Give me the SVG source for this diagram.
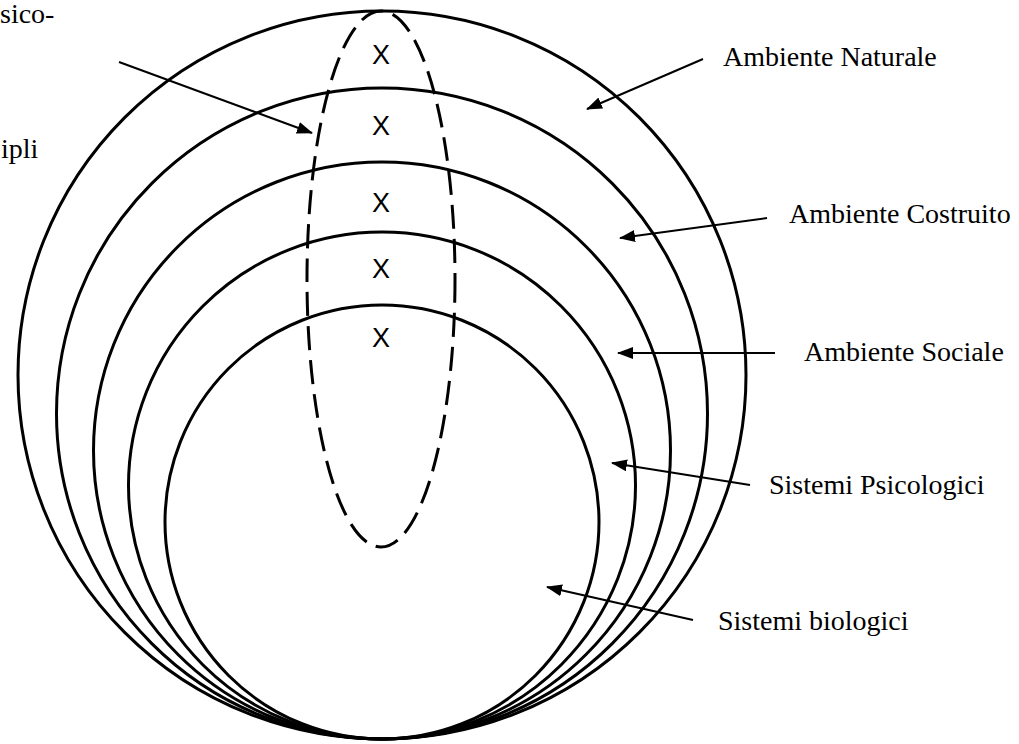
<svg xmlns="http://www.w3.org/2000/svg" width="1019" height="744" viewBox="0 0 1019 744">
<defs>
<style>
.ring{fill:none;stroke:#000;stroke-width:3}
.dash{fill:none;stroke:#000;stroke-width:3;stroke-dasharray:24 10}
.arr{fill:none;stroke:#000;stroke-width:2;marker-end:url(#ah)}
.lbl{font-family:"Liberation Serif","Times New Roman",serif;font-size:28px;fill:#000}
.x{font-family:"Liberation Sans",Arial,sans-serif;font-size:27px;fill:#000;text-anchor:middle}
</style>
<marker id="ah" markerWidth="16" markerHeight="12" refX="15" refY="6" orient="auto" markerUnits="userSpaceOnUse">
<path d="M0,0 L16,6 L0,12 Z" fill="#000"/>
</marker>
</defs>
<rect width="1019" height="744" fill="#fff"/>
<g id="rings">
<circle id="ambiente-naturale" class="ring" cx="382" cy="375" r="364"/>
<circle id="ambiente-costruito" class="ring" cx="382" cy="413.5" r="325.5"/>
<circle id="ambiente-sociale" class="ring" cx="382" cy="450.5" r="288.5"/>
<circle id="sistemi-psicologici" class="ring" cx="382" cy="485.5" r="253.5"/>
<circle id="sistemi-biologici" class="ring" cx="382" cy="522" r="217"/>
</g>
<g id="transversal">
<ellipse class="dash" cx="381" cy="279" rx="74" ry="268"/>
<text class="x" x="381" y="64">X</text>
<text class="x" x="381" y="135">X</text>
<text class="x" x="381" y="212">X</text>
<text class="x" x="381" y="278">X</text>
<text class="x" x="381" y="347">X</text>
</g>
<g id="connectors">
<line class="arr" x1="119" y1="62" x2="312" y2="133"/>
<line class="arr" x1="703" y1="59" x2="587" y2="109"/>
<line class="arr" x1="767" y1="218" x2="620" y2="238"/>
<line class="arr" x1="775" y1="353" x2="618" y2="353"/>
<line class="arr" x1="750" y1="485" x2="612" y2="463"/>
<line class="arr" x1="693" y1="620" x2="547" y2="587"/>
</g>
<g id="labels">
<text class="lbl" x="0" y="23">sico-</text>
<text class="lbl" x="1" y="158">ipli</text>
<text class="lbl" x="723" y="66">Ambiente Naturale</text>
<text class="lbl" x="789" y="223">Ambiente Costruito</text>
<text class="lbl" x="804" y="361">Ambiente Sociale</text>
<text class="lbl" x="769" y="494">Sistemi Psicologici</text>
<text class="lbl" x="718" y="630">Sistemi biologici</text>
</g>
</svg>
